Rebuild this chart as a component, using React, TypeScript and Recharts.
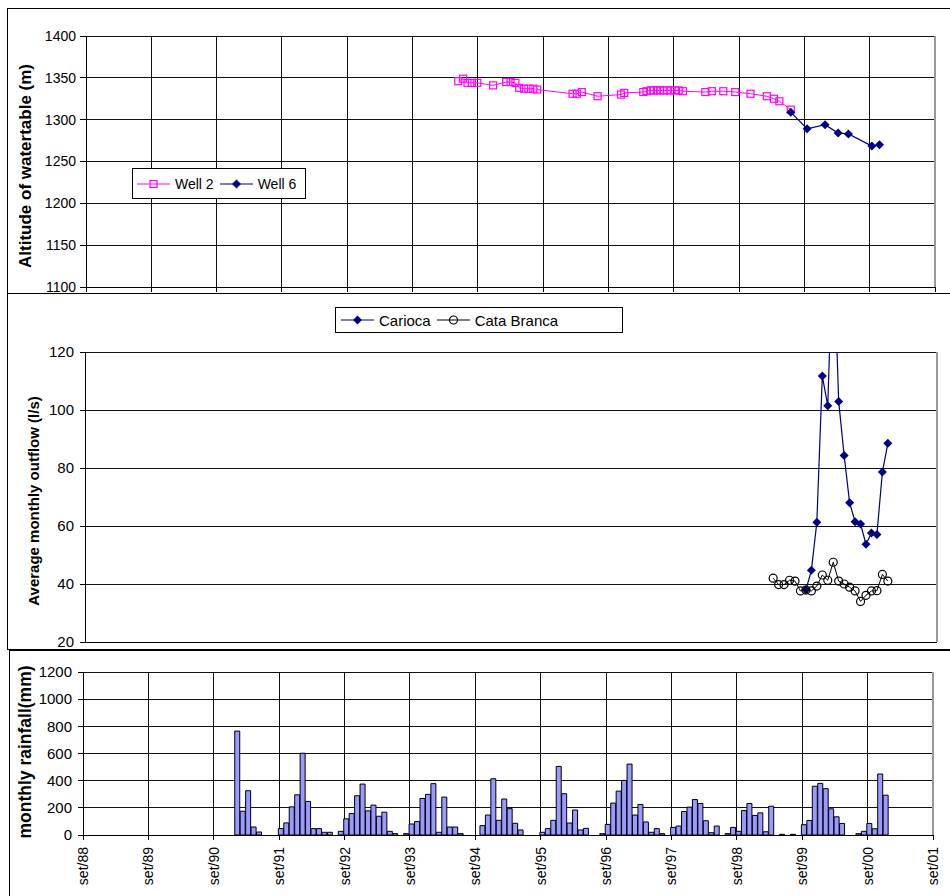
import React from 'react';
import {
  ComposedChart,
  Line,
  Bar,
  XAxis,
  YAxis,
  CartesianGrid,
  Legend,
  ReferenceLine,
} from 'recharts';

const FONT = '"Liberation Sans", Arial, Helvetica, sans-serif';
const GRID = '#111';
const PINK = '#FF00FF';
const NAVY = '#000080';

// x axis runs in months counted from set/88
const YEAR_LABELS = [
  'set/88', 'set/89', 'set/90', 'set/91', 'set/92', 'set/93', 'set/94',
  'set/95', 'set/96', 'set/97', 'set/98', 'set/99', 'set/00', 'set/01',
];
const YEAR_TICKS = YEAR_LABELS.map((_, i) => i * 12);
const X_DOMAIN = [0, 156];

const ALT_TICKS = [1100, 1150, 1200, 1250, 1300, 1350, 1400];
const FLOW_TICKS = [20, 40, 60, 80, 100, 120];
const RAIN_TICKS = [0, 200, 400, 600, 800, 1000, 1200];

// watertable readings (month since set/88, altitude m)
const WELL2_T = [
  68.4, 69.3, 70.1, 70.9, 71.9, 74.8, 77.2, 78.0, 78.9, 79.6, 80.5, 81.3, 82.2, 82.9,
  89.4, 90.2, 91.1, 94.0, 98.3, 98.9, 102.4, 103.0, 103.8, 104.3, 104.9, 105.5, 106.1,
  106.7, 107.4, 108.2, 108.9, 109.7, 113.8, 115.0, 117.1, 119.3, 122.1, 125.1, 126.4,
  127.4, 129.5,
];
const WELL2_ALT = [
  1346, 1349, 1344, 1344, 1344, 1341, 1345, 1345, 1344, 1338, 1337, 1337, 1337, 1336,
  1331, 1331, 1333, 1328, 1330, 1332, 1333, 1334, 1335, 1335, 1335, 1335, 1335,
  1335, 1335, 1335, 1335, 1334, 1333, 1334, 1334, 1333, 1331, 1328, 1325,
  1322, 1312,
];
const WELL6_T = [129.5, 132.5, 135.8, 138.2, 140.1, 144.4, 145.8];
const WELL6_ALT = [1309, 1289, 1294, 1284, 1283, 1268.5, 1270];

// monthly outflow (l/s), first month index
const CARIOCA_START = 132;
const CARIOCA = [38, 44.7, 61.3, 111.7, 101.5, 160, 102.9, 84.3, 68, 61.5, 60.7, 53.7, 57.6, 57.1, 78.6, 88.5];
const CATA_START = 126;
const CATA_BRANCA = [
  42, 39.8, 39.8, 41.3, 41, 37.6, 37.9, 37.6, 39.3, 43.1, 41.3, 47.5, 41, 40, 38.9,
  37.6, 34, 36.1, 37.6, 37.7, 43.3, 41,
];

// monthly rainfall (mm) per rainy season, starting month index
const RAIN_START = [28, 36, 47, 59, 73, 84, 95, 108, 118, 132, 142];
const RAIN_MM = [
  [765, 175, 326, 59, 22],
  [47, 89, 207, 296, 602, 247, 47, 47, 20, 20],
  [27, 119, 158, 289, 375, 178, 220, 138, 168, 27, 10],
  [10, 81, 99, 269, 299, 378, 20, 279, 59, 59, 10],
  [69, 147, 414, 108, 265, 194, 86, 37],
  [20, 47, 108, 505, 304, 88, 184, 37, 49],
  [10, 78, 235, 323, 402, 522, 147, 225, 96, 20, 47, 10],
  [56, 66, 173, 205, 261, 232, 105, 17, 66],
  [10, 56, 27, 180, 232, 144, 163, 24, 212, 0, 5, 0, 5],
  [76, 107, 359, 380, 341, 193, 134, 85],
  [10, 27, 85, 46, 449, 293],
];

const toPoints = (t: number[], v: number[]) => t.map((x, i) => ({ t: x, v: v[i] }));
const monthly = (start: number, vals: number[]) => vals.map((v, i) => ({ t: start + i, v }));

const well2 = toPoints(WELL2_T, WELL2_ALT);
const well6 = toPoints(WELL6_T, WELL6_ALT);
const carioca = monthly(CARIOCA_START, CARIOCA);
const cataBranca = monthly(CATA_START, CATA_BRANCA);
const rain = RAIN_START.flatMap((s, k) =>
  RAIN_MM[k].map((mm, i) => ({ t: s + i + 0.35, mm }))
).filter((r) => r.mm > 0);

function SquareDot(props: any) {
  const { cx, cy } = props;
  if (cx == null || cy == null) return null;
  return <rect x={cx - 3.5} y={cy - 3.5} width={7} height={7} fill="none" stroke={PINK} strokeWidth={1.2} />;
}

function DiamondDot(props: any) {
  const { cx, cy } = props;
  if (cx == null || cy == null) return null;
  const r = 4.5;
  return <polygon points={`${cx},${cy - r} ${cx + r},${cy} ${cx},${cy + r} ${cx - r},${cy}`} fill={NAVY} />;
}

function RingDot(props: any) {
  const { cx, cy } = props;
  if (cx == null || cy == null) return null;
  return <circle cx={cx} cy={cy} r={4} fill="none" stroke="#000" strokeWidth={1.2} />;
}

function AxisTitle({ px, py, text, size }: any) {
  return (
    <text
      x={px}
      y={py}
      transform={`rotate(-90 ${px} ${py})`}
      textAnchor="middle"
      dominantBaseline="central"
      fontWeight="bold"
      fontSize={size}
      fill="#000"
    >
      {text}
    </text>
  );
}

function YearTick({ x, y, payload }: any) {
  const label = YEAR_LABELS[Math.round(payload.value / 12)];
  return (
    <text
      x={x}
      y={y}
      transform={`rotate(-90 ${x} ${y})`}
      textAnchor="end"
      dominantBaseline="central"
      fontSize={14}
      fill="#000"
    >
      {label}
    </text>
  );
}

function Key({ color, marker }: { color: string; marker: 'square' | 'diamond' | 'ring' }) {
  return (
    <svg width={33} height={12} style={{ display: 'block' }}>
      <line x1={0} x2={33} y1={6} y2={6} stroke={color} strokeWidth={1.2} />
      {marker === 'square' && <SquareDot cx={16.5} cy={6} />}
      {marker === 'diamond' && <DiamondDot cx={16.5} cy={6} />}
      {marker === 'ring' && <RingDot cx={16.5} cy={6} />}
    </svg>
  );
}

function LegendBox({ items, fontSize, height, pad }: any) {
  return (
    <div
      style={{
        boxSizing: 'border-box',
        height,
        border: '1px solid #000',
        background: '#fff',
        display: 'flex',
        alignItems: 'center',
        paddingLeft: pad,
        fontSize,
        color: '#000',
        fontFamily: FONT,
        whiteSpace: 'nowrap',
      }}
    >
      {items.map((it: any, i: number) => (
        <React.Fragment key={it.name}>
          <div style={{ marginLeft: i === 0 ? 0 : 6 }}>
            <Key color={it.color} marker={it.marker} />
          </div>
          <span style={{ marginLeft: 5 }}>{it.name}</span>
        </React.Fragment>
      ))}
    </div>
  );
}

const axisStroke = { stroke: '#000', shapeRendering: 'crispEdges' };

export default function App() {
  return (
    <div
      style={{
        position: 'absolute',
        left: 0,
        top: 0,
        width: 950,
        height: 896,
        overflow: 'hidden',
        background: '#fff',
        fontFamily: FONT,
      }}
    >
      {/* panel frames */}
      <div style={{ position: 'absolute', left: 7, top: 8, width: 1000, height: 286, border: '1px solid #000', boxSizing: 'border-box' }} />
      <div style={{ position: 'absolute', left: 7, top: 293, width: 1000, height: 357, border: '1px solid #000', boxSizing: 'border-box' }} />
      <div style={{ position: 'absolute', left: 9, top: 650, width: 1000, height: 300, border: '1px solid #000', boxSizing: 'border-box' }} />

      {/* watertable */}
      <div style={{ position: 'absolute', left: 0, top: 0 }}>
        <ComposedChart width={950} height={300} margin={{ top: 36, right: 15, bottom: 5, left: 26 }}>
          <CartesianGrid stroke={GRID} shapeRendering="crispEdges" />
          <XAxis
            type="number"
            dataKey="t"
            domain={X_DOMAIN}
            ticks={YEAR_TICKS}
            interval={0}
            tickFormatter={() => ''}
            tickSize={5}
            height={8}
            axisLine={axisStroke}
            tickLine={axisStroke}
            allowDataOverflow
          />
          <YAxis
            type="number"
            domain={[1100, 1400]}
            ticks={ALT_TICKS}
            interval={0}
            width={60}
            tickSize={6}
            tickMargin={4}
            tick={{ fill: '#000', fontSize: 14 }}
            axisLine={axisStroke}
            tickLine={axisStroke}
            label={<AxisTitle px={25} py={166} text="Altitude of watertable (m)" size={17} />}
          />
          <ReferenceLine x={156} stroke="#999" strokeWidth={2} />
          <Line data={well2} dataKey="v" name="Well 2" stroke={PINK} strokeWidth={1} dot={<SquareDot />} isAnimationActive={false} />
          <Line data={well6} dataKey="v" name="Well 6" stroke={NAVY} strokeWidth={1.2} dot={<DiamondDot />} isAnimationActive={false} />
          <Legend
            layout="horizontal"
            verticalAlign="middle"
            align="center"
            wrapperStyle={{ left: 132, top: 168, width: 174, height: 31 }}
            content={() => (
              <LegendBox
                height={31}
                pad={4}
                fontSize={14}
                items={[
                  { name: 'Well 2', color: PINK, marker: 'square' },
                  { name: 'Well 6', color: NAVY, marker: 'diamond' },
                ]}
              />
            )}
          />
        </ComposedChart>
      </div>

      {/* outflow */}
      <div style={{ position: 'absolute', left: 0, top: 293 }}>
        <ComposedChart width={950} height={356} margin={{ top: 59, right: 13, bottom: 6, left: 25 }}>
          <CartesianGrid stroke={GRID} shapeRendering="crispEdges" />
          <XAxis
            type="number"
            dataKey="t"
            domain={X_DOMAIN}
            ticks={YEAR_TICKS}
            interval={0}
            tick={false}
            tickLine={false}
            height={1}
            axisLine={axisStroke}
            allowDataOverflow
          />
          <YAxis
            type="number"
            domain={[20, 120]}
            ticks={FLOW_TICKS}
            interval={0}
            allowDataOverflow
            width={60}
            tickSize={5}
            tickMargin={6}
            tick={{ fill: '#000', fontSize: 15 }}
            axisLine={axisStroke}
            tickLine={axisStroke}
            label={<AxisTitle px={33} py={208} text="Average monthly outflow (l/s)" size={15} />}
          />
          <ReferenceLine x={156} stroke="#999" strokeWidth={2} />
          <Line data={carioca} dataKey="v" name="Carioca" stroke={NAVY} strokeWidth={1.2} dot={<DiamondDot />} isAnimationActive={false} />
          <Line data={cataBranca} dataKey="v" name="Cata Branca" stroke="#000" strokeWidth={1} dot={<RingDot />} isAnimationActive={false} />
          <Legend
            layout="horizontal"
            verticalAlign="middle"
            align="center"
            wrapperStyle={{ left: 335, top: 14, width: 288, height: 26 }}
            content={() => (
              <LegendBox
                height={26}
                pad={5}
                fontSize={15}
                items={[
                  { name: 'Carioca', color: NAVY, marker: 'diamond' },
                  { name: 'Cata Branca', color: '#000', marker: 'ring' },
                ]}
              />
            )}
          />
        </ComposedChart>
      </div>

      {/* rainfall */}
      <div style={{ position: 'absolute', left: 0, top: 650 }}>
        <ComposedChart width={950} height={246} data={rain} margin={{ top: 22, right: 17, bottom: 6, left: 23 }}>
          <CartesianGrid stroke={GRID} shapeRendering="crispEdges" />
          <XAxis
            type="number"
            dataKey="t"
            domain={X_DOMAIN}
            ticks={YEAR_TICKS}
            interval={0}
            tickSize={5}
            tickMargin={7}
            height={55}
            tick={<YearTick />}
            axisLine={axisStroke}
            tickLine={axisStroke}
            allowDataOverflow
          />
          <YAxis
            type="number"
            domain={[0, 1200]}
            ticks={RAIN_TICKS}
            interval={0}
            width={60}
            tickSize={5}
            tickMargin={6}
            tick={{ fill: '#000', fontSize: 15 }}
            axisLine={axisStroke}
            tickLine={axisStroke}
            label={<AxisTitle px={25} py={102} text="monthly rainfall(mm)" size={17.5} />}
          />
          <ReferenceLine x={156} stroke="#999" strokeWidth={2} />
          <Bar dataKey="mm" fill="#9999FF" stroke="#000" strokeWidth={1} barSize={5} isAnimationActive={false} />
        </ComposedChart>
      </div>
    </div>
  );
}
